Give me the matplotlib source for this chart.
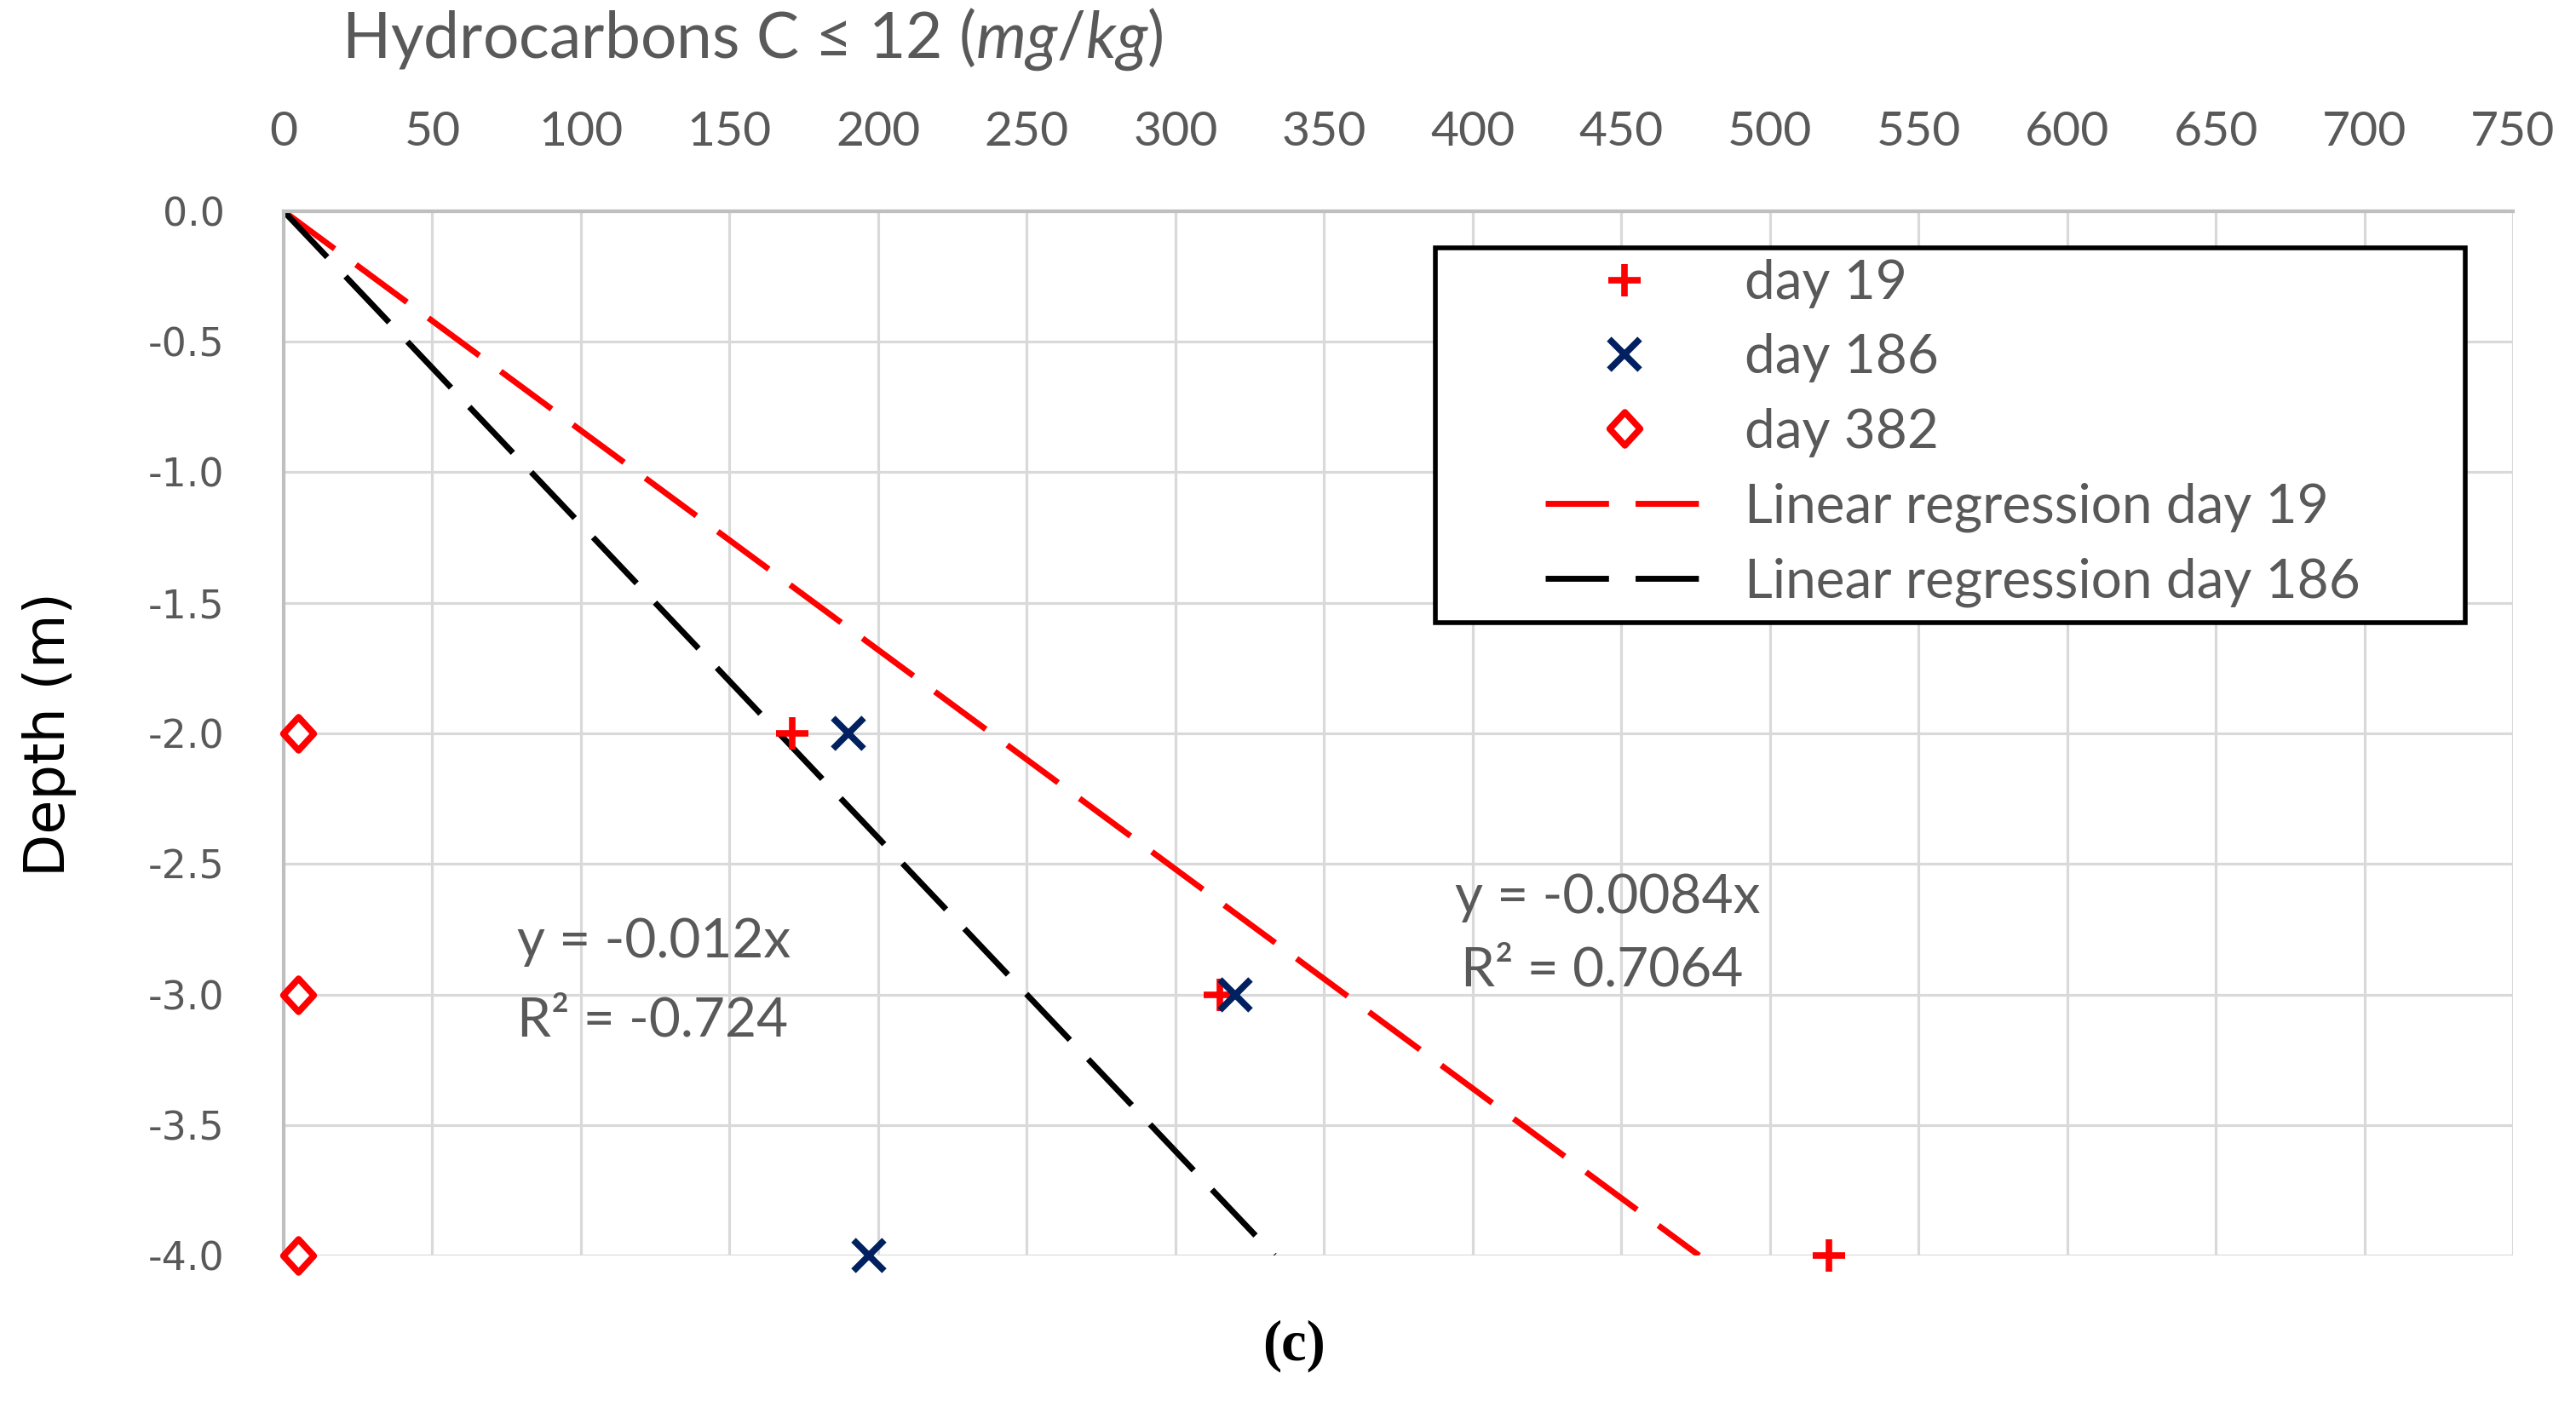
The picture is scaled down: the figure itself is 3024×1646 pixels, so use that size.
import matplotlib
matplotlib.use("Agg")
import matplotlib.pyplot as plt
from matplotlib.patches import Rectangle
from matplotlib.path import Path
import numpy as np

# ---- data ----
depth = [-2.0, -3.0, -4.0]
day19 = [171, 315, 520]
day186 = [190, 320, 197]
day382 = [5, 5, 5]
slope19 = -0.0084
slope186 = -0.012
x_ticks = list(range(0, 751, 50))
y_ticks = [0.0, -0.5, -1.0, -1.5, -2.0, -2.5, -3.0, -3.5, -4.0]
eq186 = ["y = -0.012x", "R² = -0.724"]
eq19 = ["y = -0.0084x", "R² = 0.7064"]

plt.rcParams['axes.unicode_minus'] = False
plt.rcParams['mathtext.fontset'] = 'custom'
plt.rcParams['mathtext.rm'] = 'Lato'
plt.rcParams['mathtext.it'] = 'Lato:italic'

GRAY = '#595959'
RED = '#FF0000'
NAVY = '#002060'
SANS = ['Lato', 'DejaVu Sans']

diamond = Path([(0, 1), (0.92, 0), (0, -1), (-0.92, 0), (0, 1)],
               [Path.MOVETO, Path.LINETO, Path.LINETO, Path.LINETO, Path.CLOSEPOLY])

W, H = 3024, 1646
L, R, T, B = 333, 2950, 248, 1474
fig = plt.figure(figsize=(W / 100, H / 100), dpi=100)
ax = fig.add_axes([L / W, 1 - B / H, (R - L) / W, (B - T) / H])

ax.set_xlim(0, 750)
ax.set_ylim(-4.0, 0.0)
ax.xaxis.tick_top()
ax.set_xticks(x_ticks)
ax.set_yticks(y_ticks)
ax.set_yticklabels([f"{v:.1f}" for v in y_ticks])
ax.tick_params(axis='x', length=0, pad=48, labelsize=41, labelcolor=GRAY)
ax.tick_params(axis='y', length=0, pad=50, labelsize=33, labelcolor=GRAY)
for lab in ax.get_xticklabels():
    lab.set_family(SANS)
for lab in ax.get_yticklabels():
    lab.set_family('DejaVu Sans')

ax.grid(True, color='#d9d9d9', lw=2.3)
ax.set_axisbelow(True)
for s in ['right', 'bottom']:
    ax.spines[s].set_visible(False)
for s in ['top', 'left']:
    ax.spines[s].set_color('#bfbfbf')
    ax.spines[s].set_linewidth(3)

# regression lines
xr19 = np.array([0, -4.0 / slope19])
xr186 = np.array([0, -4.0 / slope186])
ax.plot(xr19, slope19 * xr19, color=RED, lw=5, dashes=(10.7, 4.5), label='Linear regression day 19', zorder=2)
ax.plot(xr186, slope186 * xr186, color='black', lw=5, dashes=(10.7, 4.5), label='Linear regression day 186', zorder=2)

# data points
ax.plot(day19, depth, ls='none', marker='+', ms=28, mew=5.5, color=RED, label='day 19', zorder=3, clip_on=False)
ax.plot(day186, depth, ls='none', marker='x', ms=26, mew=5.5, color=NAVY, label='day 186', zorder=4, clip_on=False)
ax.plot(day382, depth, ls='none', marker=diamond, ms=28, mew=5.5, mfc='white', mec=RED, label='day 382', zorder=3, clip_on=False)

handles, labels = ax.get_legend_handles_labels()
order = [2, 3, 4, 0, 1]
leg = fig.legend([handles[i] for i in order], [labels[i] for i in order],
                 loc='upper left', bbox_to_anchor=(1814 / W, 1 - 304 / H),
                 frameon=False, borderpad=0, borderaxespad=0,
                 handlelength=2.9, handletextpad=0.77, labelspacing=0.46,
                 prop={'family': SANS, 'size': 46}, labelcolor=GRAY)
fig.add_artist(Rectangle((1685 / W, 1 - 731 / H), (2894 - 1685) / W, (731 - 291) / H,
                         transform=fig.transFigure, fill=True, facecolor='white',
                         edgecolor='black', lw=4, zorder=1))
leg.set_zorder(5)

# equations
ax.text(78.5, -2.80, eq186[0], color=GRAY, fontsize=46, family=SANS, va='center', ha='left')
ax.text(78.5, -3.10, eq186[1], color=GRAY, fontsize=46, family=SANS, va='center', ha='left')
ax.text(394, -2.63, eq19[0], color=GRAY, fontsize=46, family=SANS, va='center', ha='left')
ax.text(396, -2.91, eq19[1], color=GRAY, fontsize=46, family=SANS, va='center', ha='left')

# axis titles
fig.text(401 / W, 1 - 46 / H, r"Hydrocarbons C ≤ 12 ($\mathit{mg/kg}$)", color=GRAY,
         fontsize=54, family=SANS, va='center', ha='left')
fig.text(58 / W, 1 - 862 / H, "Depth (m)", color='black', fontsize=47, family='DejaVu Sans',
         rotation=90, va='center', ha='center')
fig.text(1519 / W, 1 - 1580 / H, "(c)", color='black', fontsize=48, family='Liberation Serif',
         fontweight='bold', va='center', ha='center')

fig.savefig('out.png', dpi=100, facecolor='white')
